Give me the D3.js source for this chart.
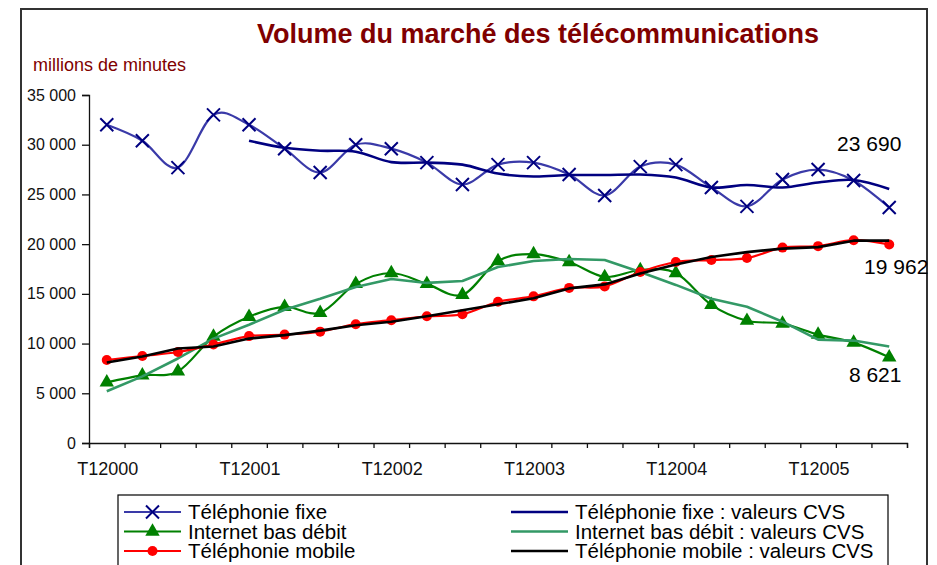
<!DOCTYPE html>
<html>
<head>
<meta charset="utf-8">
<script src="https://cdn.jsdelivr.net/npm/d3@7"></script>
<style>
  body { margin: 0; background: #fff; }
  svg { display: block; font-family: "Liberation Sans", Arial, sans-serif; }
</style>
</head>
<body>
<div id="chart"></div>
<script>
// quarters T1 2000 .. T3 2005
var quarters = ["T12000","T22000","T32000","T42000","T12001","T22001","T32001","T42001",
                "T12002","T22002","T32002","T42002","T12003","T22003","T32003","T42003",
                "T12004","T22004","T32004","T42004","T12005","T22005","T32005"];
var yTicks = [0, 5000, 10000, 15000, 20000, 25000, 30000, 35000];

// millions de minutes
var fixe = [32000, 30400, 27700, 33000, 32000, 29600, 27200, 30000, 29600, 28200, 26000, 28000,
            28200, 27000, 24900, 27800, 28000, 25700, 23800, 26500, 27500, 26400, 23690];
var fixeCVS = [null, null, null, null, 30400, 29700, 29400, 29300, 28250, 28200, 28000, 27100,
               26800, 26950, 26950, 27000, 26700, 25700, 25950, 25700, 26200, 26450, 25550];
var internet = [6100, 6800, 7200, 10700, 12700, 13700, 13100, 16000, 17100, 16000, 14900, 18300,
                19000, 18200, 16700, 17400, 17100, 13900, 12300, 12000, 10900, 10100, 8621];
var internetCVS = [5200, 6700, 8500, 10500, 11900, 13400, 14500, 15700, 16500, 16100, 16300, 17700,
                   18300, 18500, 18400, 17200, 15900, 14500, 13700, 12200, 10400, 10300, 9700];
var mobile = [8350, 8750, 9150, 9900, 10750, 10900, 11200, 11950, 12350, 12750, 12950, 14200,
              14750, 15600, 15750, 17200, 18200, 18400, 18600, 19650, 19800, 20400, 19962];
var mobileCVS = [8100, 8700, 9500, 9700, 10500, 10850, 11300, 11850, 12200, 12750, 13350, 13950,
                 14550, 15550, 15950, 17050, 17950, 18700, 19200, 19550, 19700, 20350, 20350];

var W = 937, H = 565;
var margin = {top: 95, right: 30, bottom: 122, left: 89};
var width = W - margin.left - margin.right,   // 818
    height = H - margin.top - margin.bottom;  // 348

var fr = d3.formatLocale({decimal: ",", thousands: "\u00a0", grouping: [3], currency: ["", " €"]});
var fmt = fr.format(",d");

var svg = d3.select("#chart").append("svg")
    .attr("width", W)
    .attr("height", H);

// outer frame
svg.append("rect")
    .attr("x", 21).attr("y", 9)
    .attr("width", 906).attr("height", 580)
    .attr("fill", "none")
    .attr("stroke", "#333")
    .attr("stroke-width", 2);

svg.append("text")
    .attr("x", 538).attr("y", 43)
    .attr("text-anchor", "middle")
    .attr("font-size", 27)
    .attr("font-weight", "bold")
    .attr("fill", "#800000")
    .text("Volume du marché des télécommunications");

svg.append("text")
    .attr("x", 33).attr("y", 71)
    .attr("font-size", 18)
    .attr("fill", "#800000")
    .text("millions de minutes");

var g = svg.append("g")
    .attr("transform", "translate(" + margin.left + "," + margin.top + ")");

// scales
var x = d3.scaleBand().domain(quarters).range([0, width]).paddingInner(0).paddingOuter(0);
var xEdge = d3.scaleLinear().domain([0, quarters.length]).range([0, width]);
var y = d3.scaleLinear().domain([0, 35000]).range([height, 0]);
var cx = function(i) { return x(quarters[i]) + x.bandwidth() / 2; };

// y axis
var yAxis = g.append("g")
    .call(d3.axisLeft(y).tickValues(yTicks).tickSize(7).tickPadding(6).tickFormat(fmt));
yAxis.select(".domain").attr("stroke", "#111").attr("stroke-width", 1.3);
yAxis.selectAll(".tick line").attr("stroke", "#111").attr("stroke-width", 1.3);
yAxis.selectAll("text").attr("font-size", 16).attr("fill", "#111")
    .attr("font-family", "Liberation Sans, Arial, sans-serif");

// x axis: ticks between categories
var xAxis = g.append("g")
    .attr("transform", "translate(0," + height + ")")
    .call(d3.axisBottom(xEdge).tickValues(d3.range(quarters.length + 1)).tickSize(5).tickFormat(""));
xAxis.select(".domain").attr("stroke", "#111").attr("stroke-width", 1.3);
xAxis.selectAll(".tick line").attr("stroke", "#111").attr("stroke-width", 1.3);

g.append("g").selectAll("text")
    .data(quarters.filter(function(q) { return q.slice(0, 2) === "T1"; }))
    .enter().append("text")
    .attr("x", function(q) { return x(q) + x.bandwidth() / 2 + 1; })
    .attr("y", height + 32)
    .attr("text-anchor", "middle")
    .attr("font-size", 18)
    .attr("fill", "#111")
    .text(function(q) { return q; });

// line generators
var smooth = d3.line()
    .defined(function(d) { return d != null; })
    .x(function(d, i) { return cx(i); })
    .y(function(d) { return y(d); })
    .curve(d3.curveCatmullRom.alpha(0));
var straight = d3.line()
    .defined(function(d) { return d != null; })
    .x(function(d, i) { return cx(i); })
    .y(function(d) { return y(d); });

var series = [
  {name: "Téléphonie fixe", data: fixe, color: "#3a3aa8", width: 2.2, line: smooth, marker: "cross", mcolor: "#000080"},
  {name: "Téléphonie fixe : valeurs CVS", data: fixeCVS, color: "#000080", width: 2.6, line: smooth},
  {name: "Internet bas débit", data: internet, color: "#008000", width: 2.2, line: smooth, marker: "triangle", mcolor: "#008000"},
  {name: "Internet bas débit : valeurs CVS", data: internetCVS, color: "#339966", width: 2.6, line: straight},
  {name: "Téléphonie mobile", data: mobile, color: "#ff0000", width: 2.2, line: smooth, marker: "circle", mcolor: "#ff0000"},
  {name: "Téléphonie mobile : valeurs CVS", data: mobileCVS, color: "#000000", width: 2.6, line: straight}
];

function drawMarker(sel, s) {
  if (s.marker === "cross") {
    sel.append("path")
      .attr("d", "M-6.5,-6.5L6.5,6.5M-6.5,6.5L6.5,-6.5")
      .attr("stroke", s.mcolor).attr("stroke-width", 2).attr("fill", "none");
  } else if (s.marker === "triangle") {
    sel.append("path")
      .attr("d", d3.symbol().type(d3.symbolTriangle).size(90)())
      .attr("fill", s.mcolor);
  } else if (s.marker === "circle") {
    sel.append("circle").attr("r", 5).attr("fill", s.mcolor);
  }
}

series.forEach(function(s) {
  g.append("path")
    .datum(s.data)
    .attr("fill", "none")
    .attr("stroke", s.color)
    .attr("stroke-width", s.width)
    .attr("stroke-linejoin", "round")
    .attr("d", s.line);
  if (s.marker) {
    g.append("g").selectAll("g")
      .data(s.data)
      .enter().append("g")
      .attr("transform", function(d, i) { return "translate(" + cx(i) + "," + y(d) + ")"; })
      .each(function() { drawMarker(d3.select(this), s); });
  }
});

// end-of-series labels
var last = quarters.length - 1;
var endLabels = [
  {value: fixe[last], dx: -20, dy: -56},
  {value: mobile[last], dx: 7, dy: 29},
  {value: internet[last], dx: -14, dy: 25}
];
g.append("g").selectAll("text")
  .data(endLabels)
  .enter().append("text")
  .attr("x", function(d) { return cx(last) + d.dx; })
  .attr("y", function(d) { return y(d.value) + d.dy; })
  .attr("text-anchor", "middle")
  .attr("font-size", 21)
  .attr("fill", "#000")
  .text(function(d) { return fmt(d.value); });

// legend
var legend = svg.append("g");
legend.append("rect")
    .attr("x", 118).attr("y", 495)
    .attr("width", 770).attr("height", 90)
    .attr("fill", "#fff")
    .attr("stroke", "#000")
    .attr("stroke-width", 1.2);

var item = legend.selectAll("g.item")
    .data(series)
    .enter().append("g")
    .attr("class", "item")
    .attr("transform", function(d, i) {
      var col = i % 2, row = Math.floor(i / 2);
      return "translate(" + (col ? 511 : 124) + "," + (512 + row * 19.5) + ")";
    });
item.append("line")
    .attr("x1", 0).attr("x2", 57)
    .attr("stroke", function(d) { return d.color; })
    .attr("stroke-width", function(d) { return d.width; });
item.each(function(s) {
  if (s.marker) {
    var m = d3.select(this).append("g").attr("transform", "translate(28.5,0)");
    drawMarker(m, s);
  }
});
item.append("text")
    .attr("x", 64)
    .attr("y", 7)
    .attr("font-size", 20.5)
    .attr("fill", "#000")
    .text(function(d) { return d.name; });
</script>
</body>
</html>
